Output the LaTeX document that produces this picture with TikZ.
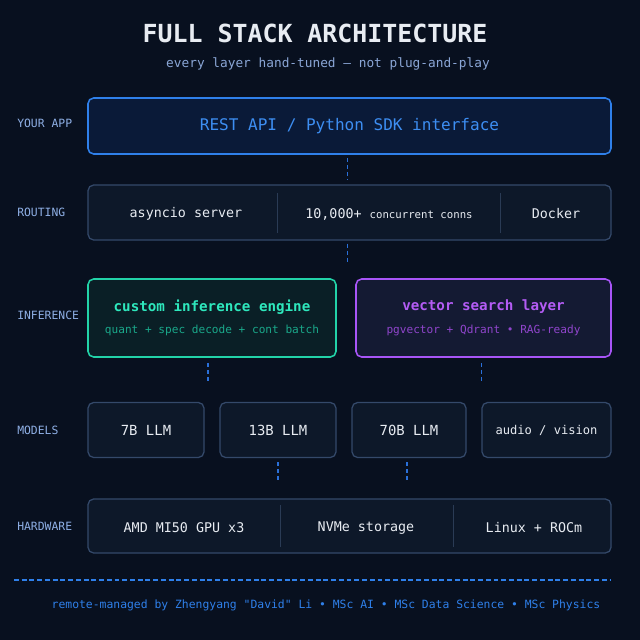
\documentclass[tikz,border=0pt]{standalone}
\usepackage{fontspec}
\setmainfont{DejaVu Sans Mono}[Ligatures=TeXOff]
\usetikzlibrary{positioning}
\definecolor{Page}{HTML}{08101F}
\definecolor{Ink}{HTML}{E8ECF2}
\definecolor{Tag}{HTML}{8FB0E6}
\definecolor{Sub}{HTML}{8AA6D6}
\definecolor{Edge}{HTML}{34496A}
\definecolor{Rule}{HTML}{2A3B55}
\definecolor{Panel}{HTML}{0D1829}
\definecolor{AppBlue}{HTML}{2F80EA}
\definecolor{AppText}{HTML}{3D8EF2}
\definecolor{AppFill}{HTML}{0A1A38}
\definecolor{Teal}{HTML}{22D3A8}
\definecolor{TealText}{HTML}{2EE8BD}
\definecolor{TealSub}{HTML}{1AA88A}
\definecolor{TealFill}{HTML}{0A1F26}
\definecolor{Violet}{HTML}{A855F7}
\definecolor{VioletText}{HTML}{B45CF5}
\definecolor{VioletSub}{HTML}{9045CC}
\definecolor{VioletFill}{HTML}{141A33}
\definecolor{Link}{HTML}{2A70DA}
\newdimen\px \px=0.025cm

\begin{document}
\begin{tikzpicture}[
  x=0.025cm, y=-0.025cm,
  layer/.style={rounded corners=4pt,draw=Edge,fill=Panel,line width=0.9pt,inner sep=0pt},
  appbox/.style={layer,draw=AppBlue,fill=AppFill,line width=1.1pt,text=AppText,font=\fontsize{11.4}{13}\selectfont},
  engbox/.style={layer,draw=Teal,fill=TealFill,line width=1.1pt,align=center,text=TealText,font=\bfseries\fontsize{10.1}{12}\selectfont},
  vecbox/.style={layer,draw=Violet,fill=VioletFill,line width=1.1pt,align=center,text=VioletText,font=\bfseries\fontsize{10.1}{12}\selectfont},
  modbox/.style={layer,minimum height=55\px,text=Ink,font=\fontsize{9.9}{12}\selectfont},
  cell/.style={text=Ink,font=\fontsize{9.5}{11}\selectfont},
  tag/.style={anchor=west,inner sep=0pt,text=Tag,font=\fontsize{8.1}{10}\selectfont},
  link/.style={draw=Link,line width=0.8pt,dash pattern=on 3pt off 2pt},
  divider/.style={draw=Rule,line width=0.7pt}
]
\fill[Page] (0,0) rectangle (640,640);
\useasboundingbox (0,0) rectangle (640,640);

\node[text=Ink,font=\bfseries\fontsize{17.7}{20}\selectfont] (title) at (315,33) {FULL STACK ARCHITECTURE};
\node[text=Sub,font=\fontsize{9.1}{11}\selectfont] (subtitle) at (328,64) {every layer hand-tuned — not plug-and-play};

\node[tag] (tapp) at (17,123) {YOUR APP};
\node[tag] (troute) at (17,212) {ROUTING};
\node[tag] (tinf) at (17,315) {INFERENCE};
\node[tag] (tmod) at (17,430) {MODELS};
\node[tag] (thw) at (17,526) {HARDWARE};

\node[appbox,minimum width=523\px,minimum height=56\px] (app) at (349.5,126) {REST API / Python SDK interface};

\node[layer,minimum width=523\px,minimum height=55\px] (route) at (349.5,212.5) {};
\node[cell] (async) at (186,214) {asyncio server};
\node[cell] (conns) at (389,214) {10,000+ {\fontsize{7.6}{9}\selectfont concurrent conns}};
\node[cell] (docker) at (556,214) {Docker};
\draw[divider] (277,193) -- (277,233);
\draw[divider] (500,193) -- (500,233);

\node[engbox,minimum width=248\px,minimum height=78\px] (engine) at (212,318)
  {custom inference engine\\[4pt]{\mdseries\fontsize{7.9}{9}\selectfont\color{TealSub}quant + spec decode + cont batch}};
\node[vecbox,minimum width=255\px,minimum height=78\px] (vector) at (483.5,318)
  {vector search layer\\[4pt]{\mdseries\fontsize{7.9}{9}\selectfont\color{VioletSub}pgvector + Qdrant • RAG-ready}};

\node[modbox,minimum width=116\px] (m7) at (146,430) {7B LLM};
\node[modbox,minimum width=116\px] (m13) at (278,430) {13B LLM};
\node[modbox,minimum width=114\px] (m70) at (409,430) {70B LLM};
\node[modbox,minimum width=129\px,font=\fontsize{8.6}{10}\selectfont] (mav) at (546.5,430) {audio / vision};

\node[layer,minimum width=523\px,minimum height=54\px] (hw) at (349.5,526) {};
\node[cell] (gpu) at (184,528) {AMD MI50 GPU x3};
\node[cell] (nvme) at (366,528) {NVMe storage};
\node[cell] (linux) at (534,528) {Linux + ROCm};
\draw[divider] (280,505) -- (280,547);
\draw[divider] (453,505) -- (453,547);

\draw[link,shorten <=3\px,shorten >=5\px] ([xshift=-2\px]app.south) -- ([xshift=-2\px]app.south |- route.north);
\draw[link,shorten <=3\px,shorten >=14\px] ([xshift=-2\px]route.south) -- ([xshift=-2\px]route.south |- engine.north);
\draw[link,shorten <=5\px,shorten >=20\px] ([xshift=-4\px]engine.south) -- ([xshift=-4\px]engine.south |- m7.north);
\draw[link,shorten <=5\px,shorten >=20\px] ([xshift=-2\px]vector.south) -- ([xshift=-2\px]vector.south |- mav.north);
\draw[link,shorten <=4\px,shorten >=17\px] (m13.south) -- (m13.south |- hw.north);
\draw[link,shorten <=4\px,shorten >=17\px] ([xshift=-2\px]m70.south) -- ([xshift=-2\px]m70.south |- hw.north);

\draw[draw=AppBlue,line width=0.8pt,dash pattern=on 3.5pt off 2pt] (14,580) -- (610,580);
\node[text=AppBlue,font=\fontsize{8.1}{10}\selectfont] (footer) at (326,605)
  {remote-managed by Zhengyang "David" Li • MSc AI • MSc Data Science • MSc Physics};
\end{tikzpicture}
\end{document}
